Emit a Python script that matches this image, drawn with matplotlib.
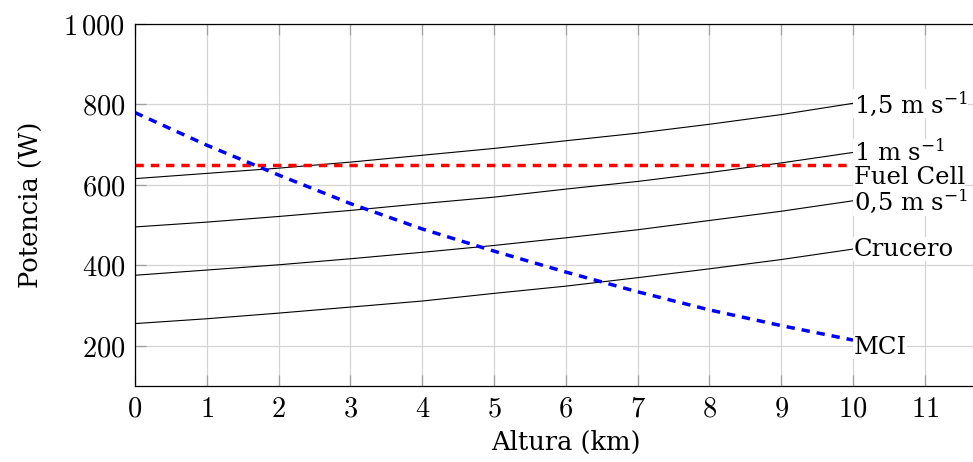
import matplotlib.pyplot as plt
from matplotlib.ticker import FixedLocator, FuncFormatter

# potencia necesaria frente a altura (km)
altura = [0, 1, 2, 3, 4, 5, 6, 7, 8, 9, 10]
crucero = [255, 267, 281, 296, 311, 330, 348, 369, 391, 414, 440]
subida_05 = [375, 388, 401, 416, 432, 449, 468, 488, 511, 534, 560]
subida_10 = [495, 507, 521, 536, 553, 569, 589, 608, 630, 654, 680]
subida_15 = [615, 628, 641, 656, 673, 690, 709, 728, 750, 774, 802]
fuel_cell = [650, 650, 650, 650, 650, 650, 650, 650, 650, 650, 650]
mci = [779, 698, 624, 553, 490, 435, 383, 334, 289, 250, 214]

x_ticks = [0, 1, 2, 3, 4, 5, 6, 7, 8, 9, 10, 11]
y_ticks = [200, 400, 600, 800, 1000]

plt.rcParams['font.family'] = 'DejaVu Serif'
plt.rcParams['mathtext.fontset'] = 'cm'
plt.rcParams['lines.scale_dashes'] = False

fig = plt.figure(figsize=(9.73, 4.62), dpi=100)
ax = fig.add_axes([135 / 973, 1 - 386 / 462, (996.6 - 135) / 973, (386 - 23.6) / 462])

ax.plot(altura, subida_15, color='black', lw=0.8)
ax.plot(altura, subida_10, color='black', lw=0.8)
ax.plot(altura, subida_05, color='black', lw=0.8)
ax.plot(altura, crucero, color='black', lw=0.8)
ax.plot(altura, fuel_cell, color='red', lw=2.5, dashes=(6.0, 5.0))
ax.plot(altura, mci, color='blue', lw=2.5, dashes=(6.0, 5.0))

box = dict(facecolor='white', edgecolor='none', pad=0.3)
etiquetas = [
    (subida_15[-1], r'1,5 m s$^{-1}$', 0),
    (subida_10[-1], r'1 m s$^{-1}$', 0),
    (subida_05[-1], r'0,5 m s$^{-1}$', 0),
    (crucero[-1], 'Crucero', 0),
    (fuel_cell[-1], 'Fuel Cell', -9),
    (mci[-1], 'MCI', -5),
]
for y, txt, dy in etiquetas:
    ax.annotate(txt, (altura[-1], y), xytext=(0.5, dy), textcoords='offset points',
                ha='left', va='center', fontsize=17.5, bbox=box,
                math_fontfamily='dejavuserif', zorder=5)

ax.set_xlim(0, 12)
ax.set_ylim(100, 1000)
ax.xaxis.set_major_locator(FixedLocator(x_ticks))
ax.yaxis.set_major_locator(FixedLocator(y_ticks))
ax.xaxis.set_major_formatter(FuncFormatter(lambda v, p: r'$%d$' % v))
ax.yaxis.set_major_formatter(FuncFormatter(
    lambda v, p: r'$1\,000$' if v == 1000 else r'$%d$' % v))

ax.grid(True, color='#d4d4d4', lw=0.9)
ax.set_axisbelow(True)
ax.tick_params(direction='in', length=8, width=0.9, color='#a0a0a0',
               top=True, right=True, labelsize=20.5, pad=7)
for s in ax.spines.values():
    s.set_linewidth(0.9)

ax.set_xlabel('Altura (km)', fontsize=18.5, labelpad=5)
ax.set_ylabel('Potencia (W)', fontsize=18.5, labelpad=14)

fig.savefig('out.png', dpi=100)
